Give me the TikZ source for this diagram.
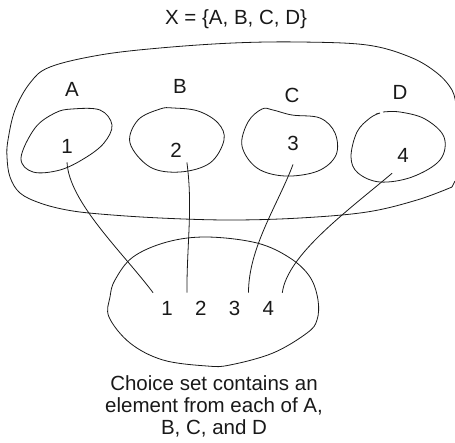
\documentclass[tikz,border=0pt]{standalone}
\usepackage{fontspec}
\setmainfont{Liberation Sans}
\usetikzlibrary{positioning}
\definecolor{inkblack}{RGB}{25,25,25}

\begin{document}
\begin{tikzpicture}[
    x=1pt,y=-1pt,
    node distance=6pt,
    lbl/.style={font=\fontsize{20.5}{22}\selectfont,inner sep=0pt,text=inkblack},
    elem/.style={font=\fontsize{20.5}{22}\selectfont,inner sep=5pt,text=inkblack},
    pick/.style={font=\fontsize{20.5}{22}\selectfont,inner sep=8pt,text=inkblack},
    blob/.style={draw=inkblack,line width=0.8pt},
    lnk/.style={draw=inkblack,line width=0.8pt},
  ]
  \useasboundingbox (0,0) rectangle (455,442);
  \node[lbl](title) at (236,19){X = \{A, B, C, D\}};
  % the big set X
  \draw[blob] plot[smooth,tension=0.6] coordinates {(452,187) (417,200) (367,212) (300,218)
    (230,220) (160,218) (100,214) (67,210) (40,203) (20,193) (10,177) (7,157) (8,140)
    (15,110) (30,83) (50,67) (100,55) (160,48) (233,43) (300,42) (367,45) (410,57)
    (437,73) (452,90) (456,105)} -- (456,108);
  \draw[blob] (452,187) -- (455,181);
  % A, B, C, D
  \draw[blob] plot[smooth cycle,tension=0.6] coordinates {(21,158) (35,128) (55,113) (72,109)
    (100,110) (112,125) (104,143) (85,158) (60,170) (33,172)};
  \draw[blob] plot[smooth cycle,tension=0.6] coordinates {(130,143) (138,120) (160,109) (173,108)
    (198,111) (218,123) (224,140) (210,163) (180,172) (150,167)};
  \draw[blob] plot[smooth cycle,tension=0.6] coordinates {(242,146) (248,122) (262,109) (273,110)
    (292,115) (320,118) (335,133) (336,155) (318,171) (285,176) (257,168)};
  \draw[blob] plot[smooth,tension=0.6] coordinates {(383,112) (400,112) (425,119) (444,137)
    (440,160) (412,177) (380,182) (358,173) (351,157) (357,132) (370,118) (380,113)} -- (376,114);
  \node[lbl](labA) at (72,89){A};
  \node[lbl](labB) at (180,86){B};
  \node[lbl](labC) at (292,95){C};
  \node[lbl](labD) at (400,92){D};
  \node[elem](elA) at (67,146){1};
  \node[elem](elB) at (176,150){2};
  \node[elem](elC) at (293,143){3};
  \node[elem](elD) at (403,155){4};
  % the choice set
  \draw[blob] plot[smooth cycle,tension=0.6] coordinates {(109,317) (110,297) (115,280)
    (133,257) (167,242) (207,237) (257,243) (290,258) (310,277) (318,300) (317,320)
    (307,333) (273,353) (230,365) (207,366) (163,360) (130,343)};
  \node[pick](chA) at (167,308){1};
  \node[pick,right=of chA](chB){2};
  \node[pick,right=of chB](chC){3};
  \node[pick,right=of chC](chD){4};
  \draw[lnk]([yshift=-4pt]elA.south) .. controls +(2,40) and +(-30,-40) .. (chA.north west);
  \draw[lnk](elB.south east) .. controls +(6,45) and +(0,-50) .. (chB.north west);
  \draw[lnk]([yshift=-9pt]elC.south) .. controls +(-15,40) and +(0,-45) .. (chC.north east);
  \draw[lnk]([yshift=-6pt]elD.south west) .. controls +(-45,38) and +(5,-38) .. (chD.north east);
  \node[lbl,align=center](cap) at (214,406){Choice set contains an\\element from each of A,\\B, C, and D};
\end{tikzpicture}
\end{document}
